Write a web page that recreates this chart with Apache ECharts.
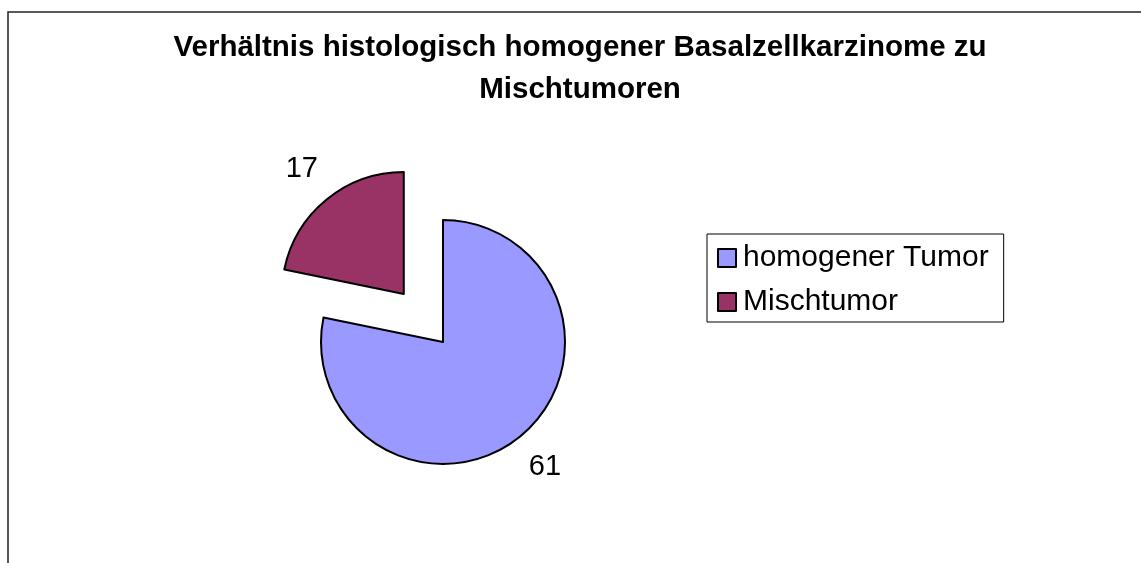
<!DOCTYPE html>
<html>
<head>
<meta charset="utf-8">
<title>Basalzellkarzinome</title>
<script src="https://cdn.jsdelivr.net/npm/echarts@6/dist/echarts.min.js"></script>
<style>
  html, body { margin: 0; padding: 0; background: #fff; }
  #chart { width: 1141px; height: 563px; }
</style>
</head>
<body>
<div id="chart"></div>
<script>
// data
const categories = ['homogener Tumor', 'Mischtumor'];
const counts = [61, 17];
const explodedIndex = 1; // Mischtumor is pulled out

const pieData = categories.map((name, i) => ({
  name: name,
  value: counts[i],
  selected: i === explodedIndex
}));

const chart = echarts.init(document.getElementById('chart'));

const options = {
  backgroundColor: '#fff',
  animation: false,
  color: ['#9999FF', '#993366'],
  title: {
    text: 'Verhältnis histologisch homogener Basalzellkarzinome zu\nMischtumoren',
    left: 580,
    top: 27,
    padding: 0,
    textAlign: 'center',
    textStyle: {
      fontFamily: 'Liberation Sans, Arial, sans-serif',
      fontSize: 29.5,
      fontWeight: 'bold',
      lineHeight: 42,
      color: '#000'
    }
  },
  legend: {
    orient: 'vertical',
    left: 707,
    top: 234,
    padding: [9, 15, 5, 10],
    itemGap: 14,
    itemWidth: 18,
    itemHeight: 18,
    icon: 'rect',
    borderColor: '#000',
    borderWidth: 1,
    borderRadius: 0,
    selectedMode: false,
    itemStyle: { borderColor: '#000', borderWidth: 2 },
    textStyle: {
      fontFamily: 'Liberation Sans, Arial, sans-serif',
      fontSize: 30,
      lineHeight: 30,
      color: '#000',
      padding: [0, 0, 0, 2]
    },
    data: categories
  },
  graphic: [
    {
      type: 'polyline',
      silent: true,
      shape: { points: [[8, 563], [8, 12], [1141, 12]] },
      style: { stroke: '#222', lineWidth: 1.5, fill: null }
    }
  ],
  series: [
    {
      name: 'Tumoren',
      type: 'pie',
      center: [443, 342],
      radius: 122,
      startAngle: 90,
      clockwise: true,
      selectedMode: 'single',
      selectedOffset: 62,
      avoidLabelOverlap: false,
      itemStyle: { borderColor: '#000', borderWidth: 2 },
      label: {
        show: true,
        position: 'outside',
        formatter: '{c}',
        fontFamily: 'Liberation Sans, Arial, sans-serif',
        fontSize: 29,
        color: '#000'
      },
      labelLine: { show: false, length: 39, length2: -21 },
      emphasis: { disabled: true },
      data: pieData
    }
  ]
};

chart.setOption(options);
</script>
</body>
</html>
